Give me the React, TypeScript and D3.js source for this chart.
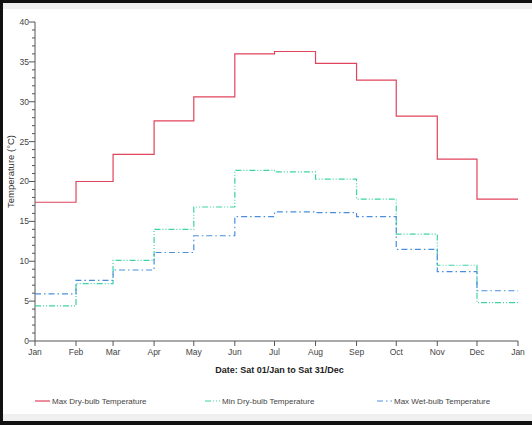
import React from "react";
import * as d3 from "d3";

const months = ["Jan", "Feb", "Mar", "Apr", "May", "Jun", "Jul", "Aug", "Sep", "Oct", "Nov", "Dec", "Jan"];
const monthDays = [31, 28, 31, 30, 31, 30, 31, 31, 30, 31, 30, 31];
const maxDry = [17.4, 20.0, 23.4, 27.6, 30.6, 36.0, 36.3, 34.8, 32.7, 28.2, 22.8, 17.8];
const minDry = [4.4, 7.2, 10.1, 14.0, 16.8, 21.4, 21.2, 20.3, 17.8, 13.4, 9.5, 4.8];
const maxWet = [5.9, 7.6, 8.9, 11.1, 13.2, 15.6, 16.2, 16.1, 15.6, 11.5, 8.7, 6.3];
const yTicks = [0, 5, 10, 15, 20, 25, 30, 35, 40];

const W = 532, H = 425;
const L = 35, R = 518, T = 22, B = 341;

export default function App() {
  const starts: number[] = [0];
  monthDays.forEach((d, i) => starts.push(starts[i] + d));
  const x = d3.scaleLinear().domain([0, 365]).range([L, R]);
  const y = d3.scaleLinear().domain([0, 40]).range([B, T]);
  const line = d3.line<[number, number]>().x(d => x(d[0])).y(d => y(d[1])).curve(d3.curveStepAfter);
  const pts = (vals: number[]): [number, number][] => {
    const p = vals.map((v, i) => [starts[i], v] as [number, number]);
    p.push([365, vals[vals.length - 1]]);
    return p;
  };
  const series = [
    { name: "Max Dry-bulb Temperature", vals: maxDry, color: "#e0445c", dash: "" },
    { name: "Min Dry-bulb Temperature", vals: minDry, color: "#3fd3a6", dash: "6,2,1,2,1,2" },
    { name: "Max Wet-bulb Temperature", vals: maxWet, color: "#4a8fdc", dash: "6,3,1.5,3" },
  ];
  const minor = d3.range(0, 41, 1).filter(v => v % 5 !== 0);
  const font = "Liberation Sans, Arial, sans-serif";
  const legendX = [35, 205, 377];
  return (
    <svg width={W} height={H} style={{ position: "absolute", left: 0, top: 0 }} fontFamily={font}>
      <rect x={0} y={0} width={W} height={H} fill="#fff" />
      <rect x={0} y={3} width={W} height={6} fill="#f0f0f0" />
      <rect x={0} y={414} width={W} height={7} fill="#f0f0f0" />
      <rect x={0} y={0} width={W} height={3} fill="#111" />
      <rect x={0} y={421} width={W} height={4} fill="#111" />
      <rect x={0} y={0} width={3} height={H} fill="#111" />
      {/* y axis */}
      <line x1={L} x2={L} y1={T} y2={B} stroke="#555" strokeWidth={1} />
      {yTicks.map(v => (
        <g key={v}>
          <line x1={L - 6} x2={L} y1={y(v)} y2={y(v)} stroke="#555" />
          <text x={L - 6} y={y(v)} dy="0.35em" textAnchor="end" fontSize={8.5} fill="#444">{v}</text>
        </g>
      ))}
      {minor.map(v => (
        <line key={v} x1={L - 3} x2={L} y1={y(v)} y2={y(v)} stroke="#555" />
      ))}
      <text transform={`translate(14,${(T + B) / 2 - 10}) rotate(-90)`} textAnchor="middle" fontSize={9.5} fill="#333">Temperature (°C)</text>
      {/* x axis */}
      <line x1={L} x2={R} y1={B} y2={B} stroke="#555" />
      {starts.map((s, i) => (
        <g key={i}>
          <line x1={x(s)} x2={x(s)} y1={B} y2={B + 5} stroke="#555" />
          <text x={x(s)} y={B + 14} textAnchor="middle" fontSize={8.5} fill="#444">{months[i]}</text>
        </g>
      ))}
      <text x={(L + R) / 2 + 3} y={373} textAnchor="middle" fontSize={9} fontWeight="bold" fill="#222">Date: Sat 01/Jan to Sat 31/Dec</text>
      {series.map(s => (
        <path key={s.name} d={line(pts(s.vals)) || ""} fill="none" stroke={s.color} strokeWidth={1.2} strokeDasharray={s.dash} />
      ))}
      {series.map((s, i) => (
        <g key={s.name}>
          <line x1={legendX[i]} x2={legendX[i] + 15} y1={401} y2={401} stroke={s.color} strokeWidth={1.2} strokeDasharray={s.dash} />
          <text x={legendX[i] + 17} y={401} dy="0.35em" fontSize={8} fill="#444">{s.name}</text>
        </g>
      ))}
    </svg>
  );
}
